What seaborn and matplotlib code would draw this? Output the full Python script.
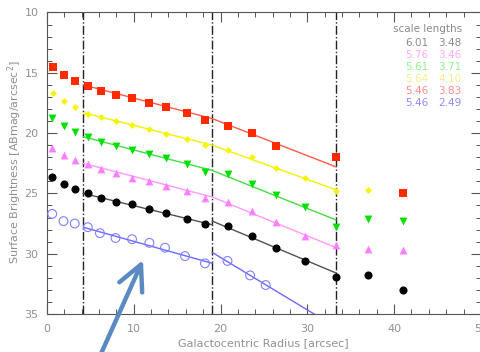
import matplotlib
matplotlib.use("Agg")
import matplotlib.pyplot as plt
from matplotlib.ticker import MultipleLocator
import seaborn as sns
import pandas as pd

sns.set_style("ticks")
plt.rcParams["font.family"] = ["DejaVu Sans"]

# ---------------- data ----------------
x_red = [0.7, 2.0, 3.2, 4.7, 6.2, 8.0, 9.8, 11.8, 13.7, 16.1, 18.2, 20.8, 23.6, 26.4, 33.3, 41.0]
y_red = [14.5, 15.2, 15.7, 16.1, 16.5, 16.8, 17.1, 17.5, 17.8, 18.3, 18.9, 19.4, 20.0, 21.1, 22.0, 25.0]

x_yellow = [0.7, 2.0, 3.2, 4.7, 6.2, 8.0, 9.8, 11.8, 13.7, 16.1, 18.2, 20.8, 23.6, 26.4, 29.7, 33.3, 37.0]
y_yellow = [16.7, 17.3, 17.8, 18.4, 18.7, 19.0, 19.3, 19.7, 20.1, 20.5, 21.0, 21.4, 22.0, 22.9, 23.7, 24.8, 24.7]

x_std = [0.6, 2.0, 3.2, 4.7, 6.2, 8.0, 9.8, 11.8, 13.7, 16.1, 18.2, 20.8, 23.6, 26.4, 29.7, 33.3, 37.0, 41.0]
y_green = [18.75, 19.4, 19.9, 20.3, 20.7, 21.1, 21.4, 21.7, 22.1, 22.6, 23.2, 23.4, 24.2, 25.1, 26.1, 27.8, 27.1, 27.3]
y_pink = [21.2, 21.8, 22.2, 22.6, 23.0, 23.3, 23.7, 24.0, 24.4, 24.8, 25.4, 25.7, 26.5, 27.4, 28.5, 29.3, 29.6, 29.7]
y_black = [23.6, 24.2, 24.6, 25.0, 25.4, 25.7, 25.9, 26.3, 26.6, 27.1, 27.5, 27.7, 28.5, 29.5, 30.6, 31.9, 31.8, 33.0]

x_blue = [0.6, 1.9, 3.2, 4.7, 6.1, 7.9, 9.8, 11.8, 13.6, 15.9, 18.2, 20.8, 23.4, 25.2]
y_blue = [26.7, 27.3, 27.5, 27.8, 28.3, 28.7, 28.8, 29.1, 29.5, 30.2, 30.8, 30.6, 31.8, 32.6]

# zone boundaries and fitted exponential-disk lines (inner / outer)
zone_edges = [4.16, 19.05, 33.3]
fit_inner_x = [4.16, 19.05]
fit_outer_x = [19.05, 33.3]
fit_red = ([16.0, 18.8], [18.8, 22.8])
fit_yellow = ([18.3, 21.0], [21.0, 24.7])
fit_green = ([20.3, 23.1], [23.1, 27.2])
fit_pink = ([22.5, 25.3], [25.3, 29.5])
fit_black = ([25.0, 27.6], [27.3, 31.6])
fit_blue = ([27.8, 30.8], [29.9, 36.1])

scale_inner = ["6.01", "5.76", "5.61", "5.64", "5.46", "5.46"]
scale_outer = ["3.48", "3.46", "3.71", "4.10", "3.83", "2.49"]
scale_colors = ["#8a8a8a", "#ffaaff", "#8cf58c", "#f0f08a", "#ff8c8c", "#8c8cff"]

# ---------------- figure ----------------
fig = plt.figure(figsize=(4.8, 3.52), dpi=100)
ax = fig.add_axes([0.0979, 0.108, 0.904, 0.8565])

series = [
    (x_red, y_red, fit_red, "s", 30, "#ff2a00", "#ff5a4a"),
    (x_yellow, y_yellow, fit_yellow, "D", 12, "#f5f500", "#f2f200"),
    (x_std, y_green, fit_green, "v", 32, "#00e000", "#44dd44"),
    (x_std, y_pink, fit_pink, "^", 32, "#ff80ff", "#ff99ff"),
    (x_std, y_black, fit_black, "o", 34, "#000000", "#505050"),
]

for xs, ys, fit, mk, sz, mc, lc in series:
    for seg_x, seg_y in zip([fit_inner_x, fit_outer_x], fit):
        sns.lineplot(x=seg_x, y=seg_y, ax=ax, color=lc, lw=1.0, zorder=2)
    sns.scatterplot(x=xs, y=ys, ax=ax, marker=mk, s=sz, color=mc,
                    linewidth=0, zorder=3)

for seg_x, seg_y in zip([fit_inner_x, fit_outer_x], fit_blue):
    sns.lineplot(x=seg_x, y=seg_y, ax=ax, color="#6a6aff", lw=1.0, zorder=2)
sns.scatterplot(x=x_blue, y=y_blue, ax=ax, marker="o", s=40, color="#8080ff",
                linewidth=0.8, zorder=3)
ax.collections[-1].set_facecolor("none")
ax.collections[-1].set_edgecolor("#8080ff")

for xe in zone_edges:
    ax.axvline(xe, color="#222222", lw=1.0, ls="-.", zorder=1)

ax.set_xlim(0, 50)
ax.set_ylim(35, 10)
ax.xaxis.set_major_locator(MultipleLocator(10))
ax.xaxis.set_minor_locator(MultipleLocator(2))
ax.yaxis.set_major_locator(MultipleLocator(5))
ax.yaxis.set_minor_locator(MultipleLocator(1))
ax.tick_params(which="both", direction="in", top=True, right=True,
               color="#555555", labelcolor="#909090", labelsize=8)
ax.tick_params(which="major", length=7, width=0.8, pad=6)
ax.tick_params(which="minor", length=3.5, width=0.7)
ax.tick_params(axis="x", pad=7)
for sp in ax.spines.values():
    sp.set_color("#555555")
    sp.set_linewidth(0.8)
ax.set_xlabel("")
ax.set_ylabel("")

fig.text(0.548, 0.026, "Galactocentric Radius [arcsec]", ha="center", va="center",
         color="#909090", fontsize=8)
fig.text(0.03, 0.54, "Surface Brightness [ABmag/arcsec$^2$]", ha="center", va="center",
         rotation=90, color="#909090", fontsize=8)

ax.text(47.8, 11.4, "scale lengths", ha="right", va="center", color="#8a8a8a", fontsize=7.5)
for i, (a, b, c) in enumerate(zip(scale_inner, scale_outer, scale_colors)):
    yy = 12.5 + i
    ax.text(43.9, yy, a, ha="right", va="center", color=c, fontsize=7.5)
    ax.text(47.8, yy, b, ha="right", va="center", color=c, fontsize=7.5)

# highlighting arrow
ax.annotate("", xy=(143, 352 - 260), xycoords="figure pixels",
            xytext=(100, -4), textcoords="figure pixels",
            arrowprops=dict(arrowstyle="->,head_length=1.8,head_width=0.9",
                            lw=3.2, color="#5b8ac3", mutation_scale=10,
                            shrinkA=0, shrinkB=0),
            annotation_clip=False, zorder=10)

fig.savefig("out.png", dpi=100)
